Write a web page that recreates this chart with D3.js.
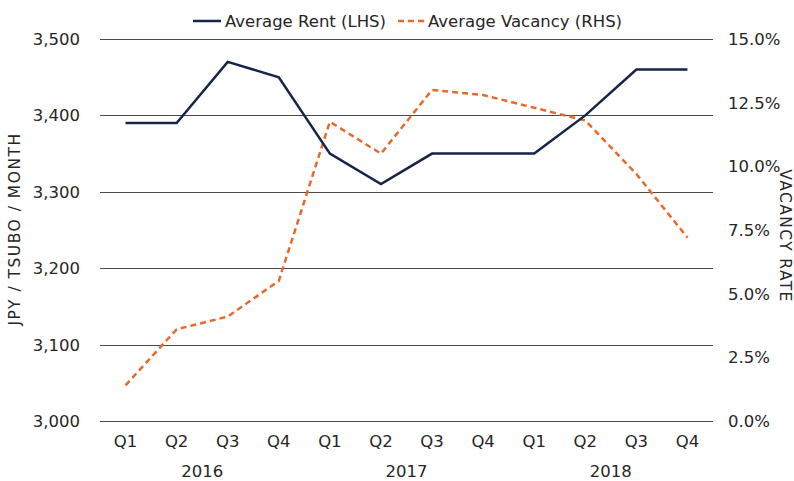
<!DOCTYPE html>
<html>
<head>
<meta charset="utf-8">
<script src="https://d3js.org/d3.v7.min.js"></script>
<style>
  body { margin: 0; background: #fff; }
  text { font-family: "DejaVu Sans", sans-serif; fill: #262626; }
</style>
</head>
<body>
<svg width="794" height="481"></svg>
<script>

var quarters = ["Q1","Q2","Q3","Q4","Q1","Q2","Q3","Q4","Q1","Q2","Q3","Q4"];
var years = ["2016","2017","2018"];
var rent = [3390,3390,3470,3450,3350,3310,3350,3350,3350,3400,3460,3460];
var vacancy = [1.4,3.6,4.1,5.5,11.75,10.5,13.0,12.8,12.3,11.8,9.7,7.2];
var rentTicks = [3000,3100,3200,3300,3400,3500];
var vacTicks = [0,2.5,5,7.5,10,12.5,15];

var svg = d3.select("svg"),
    plotLeft = 100, plotRight = 713, plotTop = 39, plotBottom = 421,
    fs = "16.5px";

var navy = "#15254a", orange = "#e8692c";

var x = d3.scaleBand()
    .domain(d3.range(quarters.length))
    .range([plotLeft, plotRight]);

var y = d3.scaleLinear().domain([3000,3500]).range([plotBottom, plotTop]);
var y2 = d3.scaleLinear().domain([0,15]).range([plotBottom, plotTop]);

function cx(i) { return x(i) + x.bandwidth() / 2; }

// gridlines (left axis)
svg.append("g")
  .selectAll("line")
  .data(rentTicks)
  .enter().append("line")
    .attr("x1", plotLeft).attr("x2", plotRight)
    .attr("y1", function(d) { return Math.round(y(d)) + 0.5; })
    .attr("y2", function(d) { return Math.round(y(d)) + 0.5; })
    .attr("stroke", "#4a4a4a")
    .attr("stroke-width", 1.2);

var fmt = d3.format(",d");
svg.append("g")
  .selectAll("text")
  .data(rentTicks)
  .enter().append("text")
    .attr("x", 80)
    .attr("y", function(d) { return y(d); })
    .attr("dy", "0.36em")
    .attr("text-anchor", "end")
    .style("font-size", fs)
    .text(function(d) { return fmt(d); });

svg.append("g")
  .selectAll("text")
  .data(vacTicks)
  .enter().append("text")
    .attr("x", 728)
    .attr("y", function(d) { return y2(d); })
    .attr("dy", "0.36em")
    .style("font-size", fs)
    .text(function(d) { return d.toFixed(1) + "%"; });

// x labels
svg.append("g")
  .selectAll("text")
  .data(quarters)
  .enter().append("text")
    .attr("x", function(d, i) { return cx(i); })
    .attr("y", 447)
    .attr("text-anchor", "middle")
    .style("font-size", fs)
    .text(function(d) { return d; });

svg.append("g")
  .selectAll("text")
  .data(years)
  .enter().append("text")
    .attr("x", function(d, i) { return (x(i * 4) + x(i * 4 + 3) + x.bandwidth()) / 2; })
    .attr("y", 477)
    .attr("text-anchor", "middle")
    .style("font-size", fs)
    .text(function(d) { return d; });

// axis titles
svg.append("text")
  .attr("transform", "translate(20,229) rotate(-90)")
  .attr("text-anchor", "middle")
  .style("font-size", "15.5px")
  .style("letter-spacing", "1.5px")
  .text("JPY / TSUBO / MONTH");

svg.append("text")
  .attr("transform", "translate(780,236) rotate(90)")
  .attr("text-anchor", "middle")
  .style("font-size", "15.5px")
  .style("letter-spacing", "1.4px")
  .text("VACANCY RATE");

// lines
var rentLine = d3.line()
    .x(function(d, i) { return cx(i); })
    .y(function(d) { return y(d); });

var vacLine = d3.line()
    .x(function(d, i) { return cx(i); })
    .y(function(d) { return y2(d); });

svg.append("path")
  .datum(vacancy)
  .attr("d", vacLine)
  .attr("fill", "none")
  .attr("stroke", orange)
  .attr("stroke-width", 2.5)
  .attr("stroke-dasharray", "6,4");

svg.append("path")
  .datum(rent)
  .attr("d", rentLine)
  .attr("fill", "none")
  .attr("stroke", navy)
  .attr("stroke-width", 2.5);

// legend
var legend = svg.append("g");
legend.append("line")
  .attr("x1", 193).attr("x2", 221).attr("y1", 21).attr("y2", 21)
  .attr("stroke", navy).attr("stroke-width", 2.5);
legend.append("text")
  .attr("x", 225).attr("y", 21).attr("dy", "0.36em")
  .style("font-size", fs)
  .text("Average Rent (LHS)");
legend.append("line")
  .attr("x1", 398).attr("x2", 424).attr("y1", 21).attr("y2", 21)
  .attr("stroke", orange).attr("stroke-width", 2.5)
  .attr("stroke-dasharray", "6,4");
legend.append("text")
  .attr("x", 428).attr("y", 21).attr("dy", "0.36em")
  .style("font-size", fs)
  .text("Average Vacancy (RHS)");

</script>
</body>
</html>
